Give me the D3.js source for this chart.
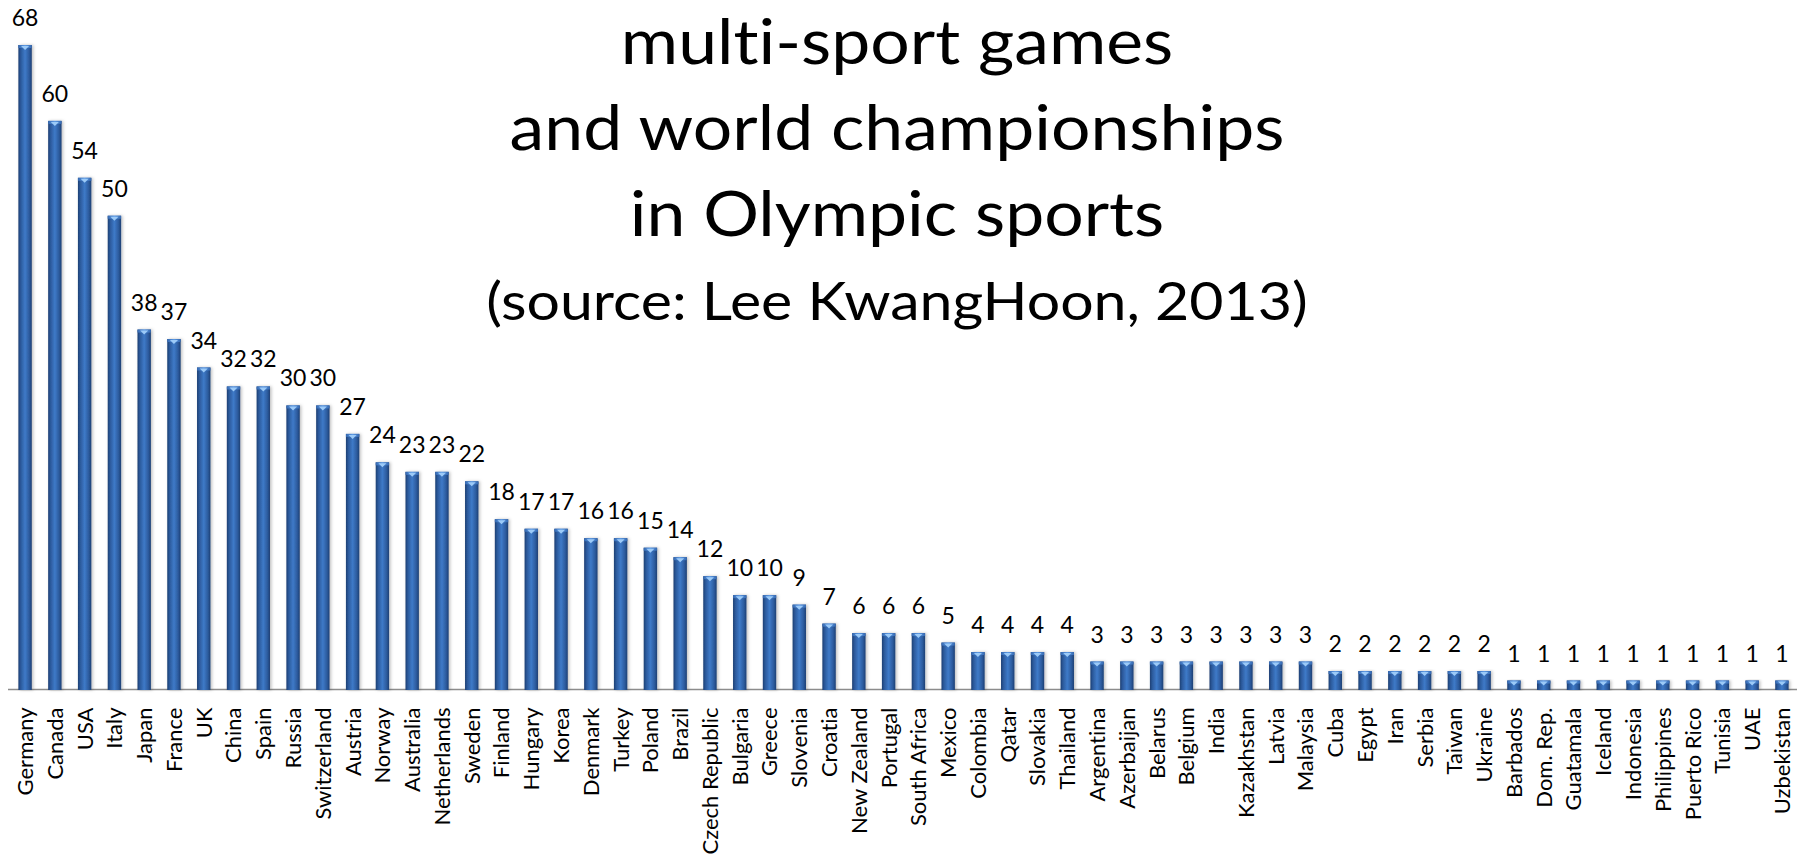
<!DOCTYPE html>
<html>
<head>
<meta charset="utf-8">
<script src="https://cdn.jsdelivr.net/npm/d3@7/dist/d3.min.js"></script>
<style>
  html, body { margin: 0; padding: 0; background: #ffffff; }
  svg { display: block; }
  text { font-family: Lato, "Open Sans", sans-serif; fill: #000; font-variant-ligatures: none; }
</style>
</head>
<body>
<svg id="chart" width="1805" height="859"></svg>
<script>
const countries = ["Germany","Canada","USA","Italy","Japan","France","UK","China","Spain","Russia",
  "Switzerland","Austria","Norway","Australia","Netherlands","Sweden","Finland","Hungary","Korea","Denmark",
  "Turkey","Poland","Brazil","Czech Republic","Bulgaria","Greece","Slovenia","Croatia","New Zealand","Portugal",
  "South Africa","Mexico","Colombia","Qatar","Slovakia","Thailand","Argentina","Azerbaijan","Belarus","Belgium",
  "India","Kazakhstan","Latvia","Malaysia","Cuba","Egypt","Iran","Serbia","Taiwan","Ukraine",
  "Barbados","Dom. Rep.","Guatamala","Iceland","Indonesia","Philippines","Puerto Rico","Tunisia","UAE","Uzbekistan"];
const counts = [68,60,54,50,38,37,34,32,32,30,
  30,27,24,23,23,22,18,17,17,16,
  16,15,14,12,10,10,9,7,6,6,
  6,5,4,4,4,4,3,3,3,3,
  3,3,3,3,2,2,2,2,2,2,
  1,1,1,1,1,1,1,1,1,1];
const titleLines = ["multi-sport games", "and world championships", "in Olympic sports"];
const subtitle = "(source: Lee KwangHoon, 2013)";

const svg = d3.select("#chart");
const baseY = 690, topY = 45;

const x = d3.scaleBand().domain(countries).range([2, 1805]).paddingInner(0.55).paddingOuter(0.55);
const y = d3.scaleLinear().domain([0, d3.max(counts)]).range([baseY, topY]);

const defs = svg.append("defs");
const g1 = defs.append("linearGradient").attr("id", "barGrad").attr("x1", "0").attr("x2", "1").attr("y1", "0").attr("y2", "0");
[[0, "#1c3f73"], [0.18, "#2c5a9c"], [0.5, "#3e7ac8"], [0.82, "#2c5a9c"], [1, "#1c3f73"]]
  .forEach(([o, c]) => g1.append("stop").attr("offset", o).attr("stop-color", c));
const g2 = defs.append("linearGradient").attr("id", "capGrad").attr("x1", "0").attr("x2", "1").attr("y1", "0").attr("y2", "0");
[[0, "#3568b0"], [0.5, "#5d9be6"], [1, "#3568b0"]]
  .forEach(([o, c]) => g2.append("stop").attr("offset", o).attr("stop-color", c));
const f = defs.append("filter").attr("id", "shadow").attr("x", "-50%").attr("y", "-10%").attr("width", "200%").attr("height", "120%");
f.append("feDropShadow").attr("dx", 1.5).attr("dy", 0).attr("stdDeviation", 1.8).attr("flood-color", "#000").attr("flood-opacity", 0.25);

// category axis
const axis = d3.axisBottom(x).tickSize(0).tickSizeOuter(0).tickPadding(0);
const axG = svg.append("g").attr("transform", `translate(0,${baseY - 0.5})`).call(axis);
axG.select(".domain").attr("stroke", "#8c8c8c").attr("stroke-width", 1.5)
  .attr("d", `M${x.range()[0] + 6},0H${x.range()[1] - 8}`);
axG.selectAll(".tick text")
  .attr("font-family", "Lato, 'Open Sans', sans-serif")
  .attr("font-size", 22)
  .attr("fill", "#000")
  .attr("text-anchor", "end")
  .attr("transform", "translate(0,18) rotate(-90)")
  .attr("x", 0).attr("y", 0).attr("dy", "0.36em");

// bars
const bars = svg.append("g").selectAll("g.bar").data(countries).join("g").attr("class", "bar");
bars.append("rect")
  .attr("x", d => x(d))
  .attr("y", (d, i) => y(counts[i]))
  .attr("width", x.bandwidth())
  .attr("height", (d, i) => y(0) - y(counts[i]))
  .attr("fill", "url(#barGrad)")
  .attr("filter", "url(#shadow)");
bars.append("rect")
  .attr("x", d => x(d))
  .attr("y", (d, i) => y(counts[i]))
  .attr("width", x.bandwidth())
  .attr("height", 3)
  .attr("fill", "url(#capGrad)");
bars.append("path")
  .attr("d", (d, i) => {
    const x0 = x(d), w = x.bandwidth(), t = y(counts[i]);
    return `M${x0 + w * 0.2},${t + 1}L${x0 + w * 0.8},${t + 1}L${x0 + w / 2},${t + 5}Z`;
  })
  .attr("fill", "#9ccaf7");

// value labels
svg.append("g").selectAll("text").data(countries).join("text")
  .attr("x", d => x(d) + x.bandwidth() / 2)
  .attr("y", (d, i) => y(counts[i]) - 19)
  .attr("text-anchor", "middle")
  .attr("font-size", 23)
  .text((d, i) => counts[i]);

// title
const tg = svg.append("g").attr("transform", "translate(897,0)");
const tt = tg.selectAll("text.t").data(titleLines).join("text").attr("class", "t")
  .attr("x", 0)
  .attr("y", (d, i) => 64 + i * 86)
  .attr("text-anchor", "middle")
  .attr("font-size", 62)
  .text(d => d);
tg.append("text")
  .attr("x", 0)
  .attr("y", 64 + 3 * 85.5)
  .attr("text-anchor", "middle")
  .attr("font-size", 52.5)
  .text(subtitle);
const w2 = tt.nodes()[1].getComputedTextLength();
const sx = 775 / w2;
tg.attr("transform", `translate(897,0) scale(${sx},1)`);
</script>
</body>
</html>
